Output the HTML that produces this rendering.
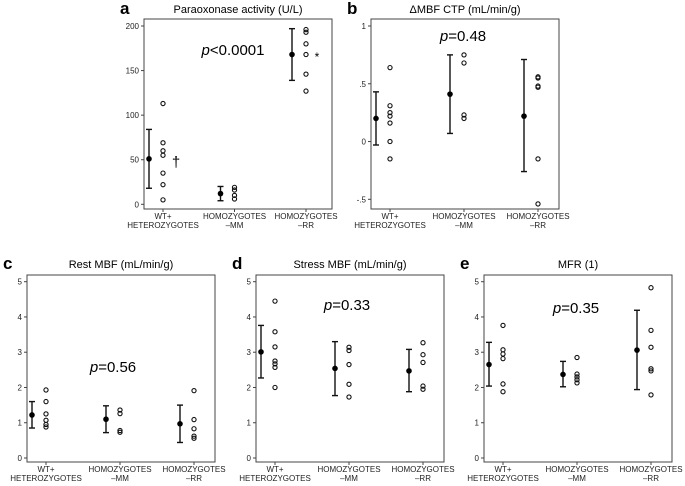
<!DOCTYPE html>
<html><head><meta charset="utf-8"><style>
body{margin:0;background:#fff;}
svg{display:block;font-family:"Liberation Sans",Arial,sans-serif;}
</style></head><body>
<svg id="fig" width="685" height="486" viewBox="0 0 685 486"></svg>
<script>
const categories = ["WT+|HETEROZYGOTES", "HOMOZYGOTES|\u2013MM", "HOMOZYGOTES|\u2013RR"];
const titles = ["Paraoxonase activity (U/L)", "\u0394MBF CTP (mL/min/g)", "Rest MBF (mL/min/g)", "Stress MBF (mL/min/g)", "MFR (1)"];
const letters = ["a", "b", "c", "d", "e"];
const pLabels = ["<0.0001", "=0.48", "=0.56", "=0.33", "=0.35"];
const tickValsA = [0, 50, 100, 150, 200];
const tickLabA = ["0", "50", "100", "150", "200"];
const tickValsB = [-0.5, 0, 0.5, 1];
const tickLabB = ["-.5", "0", ".5", "1"];
const tickValsC = [0, 1, 2, 3, 4, 5];
const tickLabC = ["0", "1", "2", "3", "4", "5"];
const meansA = [51, 12, 168];
const lowA = [18, 4, 139];
const highA = [84, 20, 197];
const ptsA = [[113, 69, 60, 55, 35, 22, 5], [19, 16, 10, 6], [196, 193, 180, 168, 146, 127]];
const meansB = [0.20, 0.41, 0.22];
const lowB = [-0.03, 0.07, -0.26];
const highB = [0.43, 0.75, 0.71];
const ptsB = [[0.64, 0.31, 0.25, 0.22, 0.16, 0, -0.15], [0.75, 0.68, 0.23, 0.20], [0.56, 0.55, 0.48, 0.47, -0.15, -0.54]];
const meansC = [1.22, 1.10, 0.97];
const lowC = [0.85, 0.72, 0.44];
const highC = [1.60, 1.48, 1.50];
const ptsC = [[1.93, 1.60, 1.25, 1.07, 0.95, 0.88], [1.36, 1.26, 0.78, 0.73], [1.91, 1.09, 0.83, 0.62, 0.56]];
const meansD = [3.01, 2.54, 2.47];
const lowD = [2.27, 1.77, 1.88];
const highD = [3.76, 3.30, 3.08];
const ptsD = [[4.45, 3.58, 3.15, 2.75, 2.67, 2.57, 2.00], [3.14, 3.05, 2.65, 2.09, 1.73], [3.27, 2.93, 2.71, 2.04, 1.95]];
const meansE = [2.65, 2.37, 3.06];
const lowE = [2.04, 2.02, 1.94];
const highE = [3.28, 2.74, 4.19];
const ptsE = [[3.76, 3.07, 2.95, 2.82, 2.10, 1.88], [2.85, 2.38, 2.30, 2.22, 2.13], [4.83, 3.62, 3.14, 2.53, 2.47, 1.79]];

const NS = "http://www.w3.org/2000/svg";
const svg = document.getElementById("fig");
function mk(tag, attrs, parent, text) {
  const e = document.createElementNS(NS, tag);
  for (const k in attrs) e.setAttribute(k, attrs[k]);
  if (text !== undefined) e.textContent = text;
  (parent || svg).appendChild(e);
  return e;
}
const panels = [
  {left:144, top:19, bot:209, sp:71.5, vmin:0, vmax:200, ymin:204.3, ymax:26, tv:tickValsA, tl:tickLabA, m:meansA, lo:lowA, hi:highA, pts:ptsA, px:233, py:55, tx:238, ty:13},
  {left:371, top:19, bot:209, sp:74, vmin:-0.5, vmax:1, ymin:199.3, ymax:26, tv:tickValsB, tl:tickLabB, m:meansB, lo:lowB, hi:highB, pts:ptsB, px:463, py:41, tx:465, ty:13},
  {left:27, top:275, bot:462, sp:74, vmin:0, vmax:5, ymin:458, ymax:281.7, tv:tickValsC, tl:tickLabC, m:meansC, lo:lowC, hi:highC, pts:ptsC, px:113, py:372, tx:121, ty:268},
  {left:256, top:275, bot:462, sp:74, vmin:0, vmax:5, ymin:458, ymax:281.7, tv:tickValsC, tl:tickLabC, m:meansD, lo:lowD, hi:highD, pts:ptsD, px:347, py:310, tx:350, ty:268},
  {left:484, top:275, bot:462, sp:74, vmin:0, vmax:5, ymin:458, ymax:281.7, tv:tickValsC, tl:tickLabC, m:meansE, lo:lowE, hi:highE, pts:ptsE, px:576, py:313, tx:578, ty:268}
];
panels.forEach((P, i) => {
  const g = mk("g", {});
  
  
  const y = v => P.ymin + (v - P.vmin) / (P.vmax - P.vmin) * (P.ymax - P.ymin);
  const xp = k => P.left + 19 + k * P.sp;
  const W = 188;
  const box = mk("rect", {x:P.left, y:P.top, width:W, height:P.bot - P.top, fill:"none", stroke:"#444", "stroke-width":1}, g);
  
  
  const lt = mk("text", {x:P.left - 24, y:P.ty + 1, "font-size":17, "font-weight":"bold"}, g, letters[i]);
  
  
  const tt = mk("text", {x:P.left + W / 2, y:P.ty, "font-size":11, "text-anchor":"middle"}, g, titles[i]);
  
  
  P.tv.forEach((v, j) => {
    mk("line", {x1:P.left - 3, x2:P.left, y1:y(v), y2:y(v), stroke:"#444"}, g);
    const tl = mk("text", {x:P.left - 5, y:y(v) + 3, "font-size":8, "text-anchor":"end", fill:"#222"}, g, P.tl[j]);
    
    
  });
  categories.forEach((c, k) => {
    mk("line", {x1:xp(k), x2:xp(k), y1:P.bot, y2:P.bot + 3, stroke:"#444"}, g);
    const parts = c.split("|");
    parts.forEach((s, r) => {
      const ct = mk("text", {x:xp(k), y:P.bot + 10 + r * 9, "font-size":8, "text-anchor":"middle", fill:"#222"}, g, s);
      
      
    });
    const mx = xp(k) - 14;
    const eb = mk("line", {x1:mx, x2:mx, y1:y(P.lo[k]), y2:y(P.hi[k]), stroke:"#111", "stroke-width":1.4}, g);
    
    
    [P.lo[k], P.hi[k]].forEach(v => mk("line", {x1:mx - 3, x2:mx + 3, y1:y(v), y2:y(v), stroke:"#111", "stroke-width":1.4}, g));
    const md = mk("circle", {cx:mx, cy:y(P.m[k]), r:2.8, fill:"#000"}, g);
    
    
    P.pts[k].forEach(v => {
      const pc = mk("circle", {cx:xp(k), cy:y(v), r:2.1, fill:"none", stroke:"#111", "stroke-width":1.1}, g);
      
      
    });
  });
  const pt = mk("text", {x:P.px, y:P.py, "font-size":15, "text-anchor":"middle"}, g);
  
  
  mk("tspan", {"font-style":"italic"}, pt, "p");
  mk("tspan", {}, pt, pLabels[i]);
});
const dg = mk("text", {x:176, y:167, "font-size":15, "text-anchor":"middle"}, svg, "\u2020");


const st = mk("text", {x:317, y:61, "font-size":12, "text-anchor":"middle"}, svg, "*");


</script>
</body></html>
